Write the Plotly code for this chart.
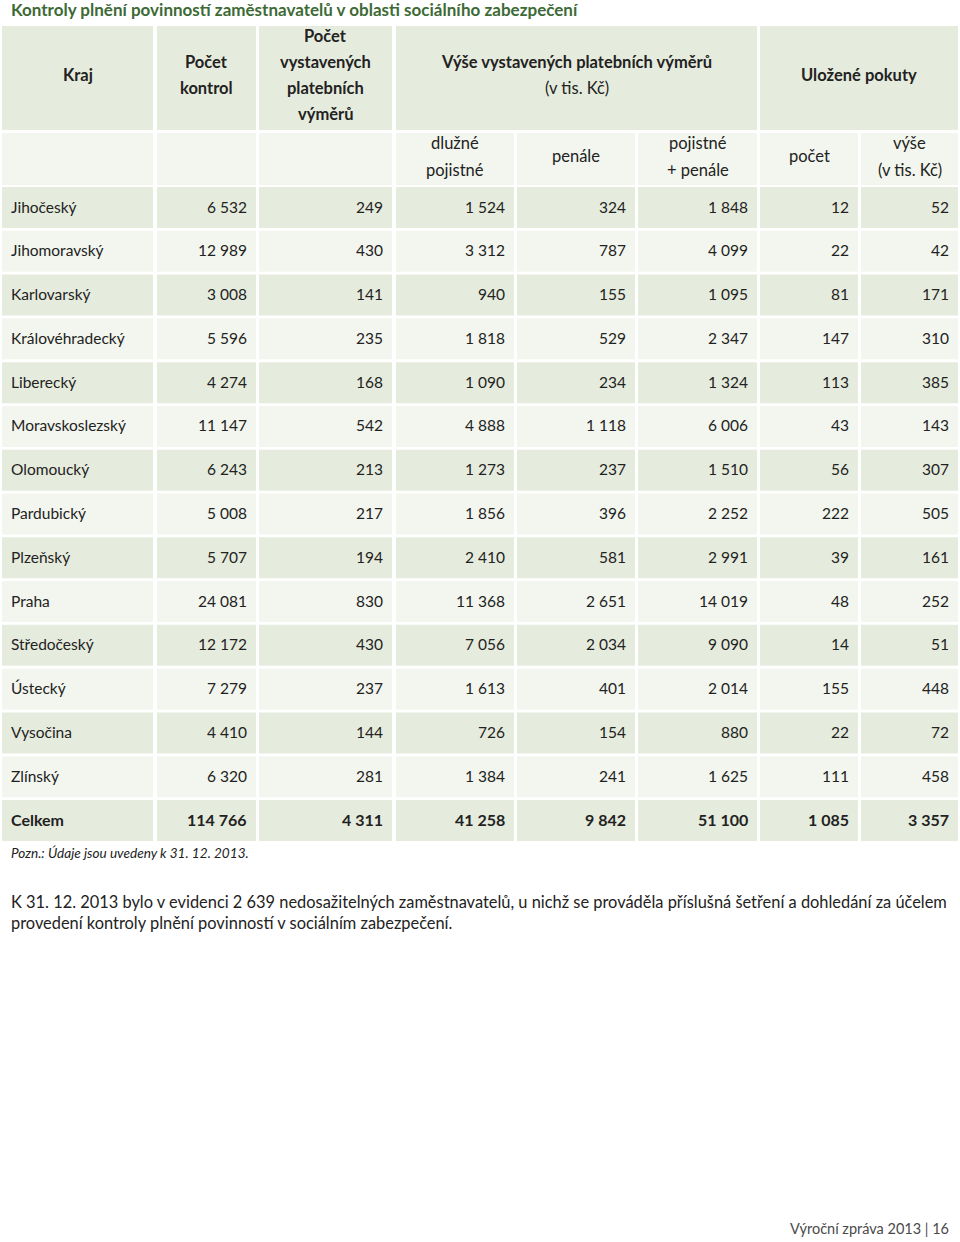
import plotly.graph_objects as go

# ---------------- data ----------------
kraje = ["Jihočeský", "Jihomoravský", "Karlovarský", "Královéhradecký", "Liberecký",
         "Moravskoslezský", "Olomoucký", "Pardubický", "Plzeňský", "Praha",
         "Středočeský", "Ústecký", "Vysočina", "Zlínský"]
pocet_kontrol = [6532, 12989, 3008, 5596, 4274, 11147, 6243, 5008, 5707, 24081, 12172, 7279, 4410, 6320]
pocet_vymeru = [249, 430, 141, 235, 168, 542, 213, 217, 194, 830, 430, 237, 144, 281]
dluzne_pojistne = [1524, 3312, 940, 1818, 1090, 4888, 1273, 1856, 2410, 11368, 7056, 1613, 726, 1384]
penale = [324, 787, 155, 529, 234, 1118, 237, 396, 581, 2651, 2034, 401, 154, 241]
pojistne_penale = [1848, 4099, 1095, 2347, 1324, 6006, 1510, 2252, 2991, 14019, 9090, 2014, 880, 1625]
pokuty_pocet = [12, 22, 81, 147, 113, 43, 56, 222, 39, 48, 14, 155, 22, 111]
pokuty_vyse = [52, 42, 171, 310, 385, 143, 307, 505, 161, 252, 51, 448, 72, 458]
celkem_label = "Celkem"
celkem = [114766, 4311, 41258, 9842, 51100, 1085, 3357]

title_text = "Kontroly plnění povinností zaměstnavatelů v oblasti sociálního zabezpečení"
note_text = "Pozn.: Údaje jsou uvedeny k 31. 12. 2013."
para_lines = ["K 31. 12. 2013 bylo v evidenci 2 639 nedosažitelných zaměstnavatelů, u nichž se prováděla příslušná šetření a dohledání za účelem",
              "provedení kontroly plnění povinností v sociálním zabezpečení."]
footer_text = "Výroční zpráva 2013 | 16"

# ---------------- layout geometry (page pixels) ----------------
PAGE_W, PAGE_H = 960, 1242
col_x = [(2, 153), (157, 256), (259, 392), (396, 514), (517, 635), (638, 757), (760, 858), (861, 958)]
H1 = (26, 130)
H2 = (133, 185)
row_top0 = 187
row_pitch = (800 - 187) / 14
row_h = 41

DARK = "#e6ecdd"
LIGHT = "#f3f6ee"
TXT = "#222222"
FONT = "Lato"
DATA_SIZE = 15.5
HEAD_SIZE = 16.5

fig = go.Figure()
shapes = []
ann = []


def rect(x0, x1, y0, y1, color):
    shapes.append(dict(type="rect", xref="x", yref="y", x0=x0, x1=x1, y0=y0, y1=y1,
                       fillcolor=color, line=dict(width=0), layer="below"))


def text(x, y, s, size=DATA_SIZE, bold=False, align="center", color=TXT, italic=False, family=FONT):
    if bold:
        s = "<b>" + s + "</b>"
    if italic:
        s = "<i>" + s + "</i>"
    ann.append(dict(x=x, y=y, xref="x", yref="y", text=s, showarrow=False,
                    xanchor=align, yanchor="middle",
                    font=dict(size=size, color=color, family=family)))


def fmt(v):
    return f"{v:,}".replace(",", " ")


# header row 1
rect(col_x[0][0], col_x[0][1], H1[0], H1[1], DARK)
rect(col_x[1][0], col_x[1][1], H1[0], H1[1], DARK)
rect(col_x[2][0], col_x[2][1], H1[0], H1[1], DARK)
rect(col_x[3][0], col_x[5][1], H1[0], H1[1], DARK)
rect(col_x[6][0], col_x[7][1], H1[0], H1[1], DARK)
# header row 2
for c in col_x:
    rect(c[0], c[1], H2[0], H2[1], LIGHT)

cx = [(a + b) / 2 for a, b in col_x]
text(cx[0], 75, "Kraj", bold=True, size=HEAD_SIZE)
text(cx[1], 62, "Počet", bold=True, size=HEAD_SIZE)
text(cx[1], 88, "kontrol", bold=True, size=HEAD_SIZE)
for i, s in enumerate(["Počet", "vystavených", "platebních", "výměrů"]):
    text(cx[2], 36 + 26 * i, s, bold=True, size=HEAD_SIZE)
mid_vyse = (col_x[3][0] + col_x[5][1]) / 2
text(mid_vyse, 62, "Výše vystavených platebních výměrů", bold=True, size=HEAD_SIZE)
text(mid_vyse, 88, "(v tis. Kč)", size=HEAD_SIZE)
text((col_x[6][0] + col_x[7][1]) / 2, 75, "Uložené pokuty", bold=True, size=HEAD_SIZE)
text(cx[3], 143, "dlužné", size=HEAD_SIZE)
text(cx[3], 170, "pojistné", size=HEAD_SIZE)
text(cx[4], 156, "penále", size=HEAD_SIZE)
text(cx[5], 143, "pojistné", size=HEAD_SIZE)
text(cx[5], 170, "+ penále", size=HEAD_SIZE)
text(cx[6], 156, "počet", size=HEAD_SIZE)
text(cx[7], 143, "výše", size=HEAD_SIZE)
text(cx[7], 170, "(v tis. Kč)", size=HEAD_SIZE)

# data rows
cols = [pocet_kontrol, pocet_vymeru, dluzne_pojistne, penale, pojistne_penale, pokuty_pocet, pokuty_vyse]
for k, name in enumerate(kraje):
    top = row_top0 + row_pitch * k
    color = DARK if k % 2 == 0 else LIGHT
    for c in col_x:
        rect(c[0], c[1], top, top + row_h, color)
    yc = top + row_h / 2 - 1
    text(col_x[0][0] + 7, yc, name, align="left")
    for j, series in enumerate(cols):
        text(col_x[j + 1][1] - 7, yc, fmt(series[k]), align="right")

# total row
k = len(kraje)
top = row_top0 + row_pitch * k
for c in col_x:
    rect(c[0], c[1], top, top + row_h, DARK)
yc = top + row_h / 2 - 1
text(col_x[0][0] + 7, yc, celkem_label, align="left", bold=True, size=16)
for j, v in enumerate(celkem):
    text(col_x[j + 1][1] - 7, yc, fmt(v), align="right", bold=True, size=16)

# title, note, paragraph, footer
text(9, 9, title_text, size=17, bold=True, align="left", color="#3d6a35")
text(9, 853, note_text, size=13.6, italic=True, align="left")
text(9, 901, para_lines[0], size=16.4, align="left")
text(9, 922, para_lines[1], size=16.4, align="left")
text(951, 1228, footer_text, size=14.5, align="right", color="#4a4a4a")

fig.update_layout(
    width=PAGE_W, height=PAGE_H, autosize=False,
    margin=dict(l=0, r=0, t=0, b=0),
    paper_bgcolor="white", plot_bgcolor="white",
    xaxis=dict(range=[0, PAGE_W], visible=False, fixedrange=True),
    yaxis=dict(range=[PAGE_H, 0], visible=False, fixedrange=True),
    shapes=shapes, annotations=ann, showlegend=False,
)
fig.write_html("out.html", config={"displayModeBar": False},
               post_script="document.body.style.margin='0';document.body.style.overflow='hidden';")
